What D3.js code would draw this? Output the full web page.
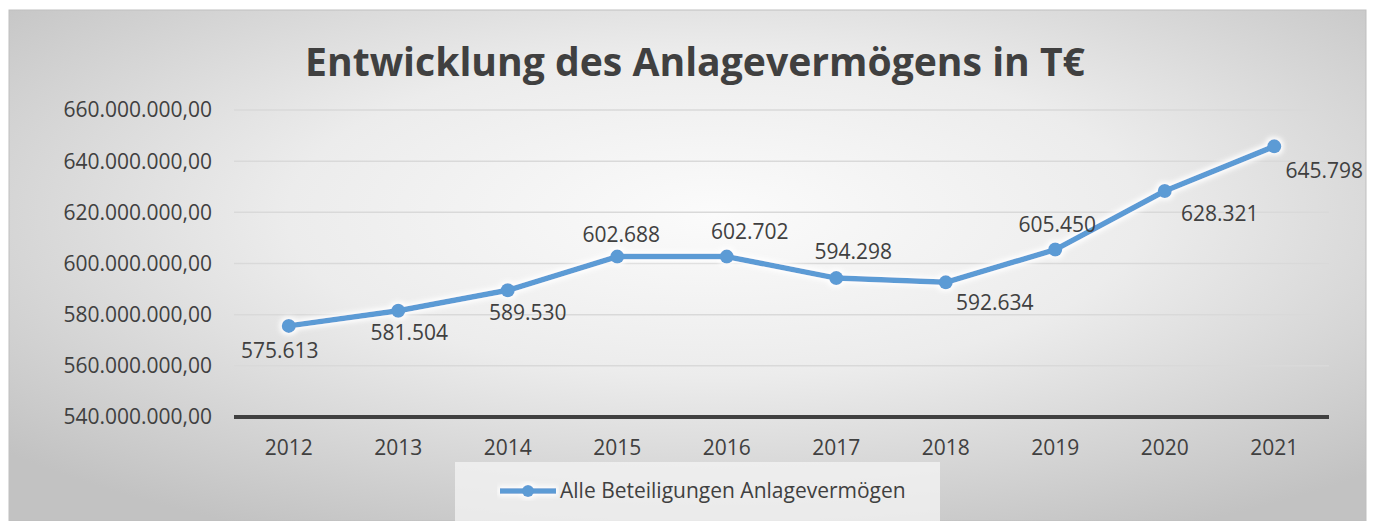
<!DOCTYPE html>
<html>
<head>
<meta charset="utf-8">
<script src="https://cdn.jsdelivr.net/npm/d3@7"></script>
<style>
  body { margin: 0; background: #fff; }
  svg { display: block; }
  text { font-family: "Open Sans", "DejaVu Sans", sans-serif; fill: #404040; }
</style>
</head>
<body>
<svg id="chart" width="1373" height="521"></svg>
<script>
// data (values in T€, axis shows raw euros)
var years = ['2012', '2013', '2014', '2015', '2016', '2017', '2018', '2019', '2020', '2021'];
var values = [575613, 581504, 589530, 602688, 602702, 594298, 592634, 605450, 628321, 645798];
var yTicks = [540000000, 560000000, 580000000, 600000000, 620000000, 640000000, 660000000];
var seriesName = 'Alle Beteiligungen Anlagevermögen';
var title = 'Entwicklung des Anlagevermögens in T€';

var svg = d3.select('#chart');
var W = 1373, H = 521;

var de = d3.formatLocale({ decimal: ',', thousands: '.', grouping: [3], currency: ['', '€'] });
var fmtAxis = de.format(',.2f');
var fmtLabel = de.format(',');

// background: grey frame with soft radial light
var defs = svg.append('defs');
var bg = defs.append('radialGradient').attr('id', 'bg')
  .attr('cx', '52%').attr('cy', '40%').attr('r', '70%');
bg.append('stop').attr('offset', '0%').attr('stop-color', '#fbfbfb');
bg.append('stop').attr('offset', '45%').attr('stop-color', '#ececec');
bg.append('stop').attr('offset', '100%').attr('stop-color', '#c2c2c2');

// white halo around the series, like the office "glow" effect
var glow = defs.append('filter').attr('id', 'glow')
  .attr('x', '-5%').attr('y', '-30%').attr('width', '110%').attr('height', '160%');
glow.append('feMorphology').attr('in', 'SourceAlpha').attr('operator', 'dilate').attr('radius', 1.5).attr('result', 'd');
glow.append('feGaussianBlur').attr('in', 'd').attr('stdDeviation', 2.5).attr('result', 'b');
glow.append('feFlood').attr('flood-color', '#ffffff').attr('flood-opacity', 1);
glow.append('feComposite').attr('in2', 'b').attr('operator', 'in').attr('result', 'g');
var merge = glow.append('feMerge');
merge.append('feMergeNode').attr('in', 'g');
merge.append('feMergeNode').attr('in', 'SourceGraphic');

svg.append('rect')
  .attr('x', 9).attr('y', 10).attr('width', W - 16).attr('height', H - 10)
  .attr('fill', 'url(#bg)')
  .attr('stroke', '#bfbfbf').attr('stroke-width', 1);

var margin = { top: 110, left: 234, right: 44, bottom: 104 };
var plotW = W - margin.left - margin.right;
var plotH = 417 - margin.top;

var g = svg.append('g').attr('transform', 'translate(' + margin.left + ',' + margin.top + ')');

var x = d3.scaleBand().domain(years).range([0, plotW]);
var y = d3.scaleLinear().domain([540000000, 660000000]).range([plotH, 0]);

// gridlines
g.selectAll('.grid').data(yTicks.slice(1)).enter().append('line')
  .attr('x1', 0).attr('x2', plotW)
  .attr('y1', function(d) { return y(d); }).attr('y2', function(d) { return y(d); })
  .attr('stroke', '#d9d9d9').attr('stroke-width', 1.5);

// y tick labels
g.selectAll('.ylab').data(yTicks).enter().append('text')
  .attr('x', -22).attr('y', function(d) { return y(d); })
  .attr('dy', '0.35em').attr('text-anchor', 'end')
  .style('font-size', '21px')
  .text(function(d) { return fmtAxis(d); });

// x axis line
g.append('line')
  .attr('x1', 0).attr('x2', plotW).attr('y1', plotH).attr('y2', plotH)
  .attr('stroke', '#404040').attr('stroke-width', 4);

// x labels
g.selectAll('.xlab').data(years).enter().append('text')
  .attr('x', function(d) { return x(d) + x.bandwidth() / 2; })
  .attr('y', plotH + 31).attr('dy', '0.35em').attr('text-anchor', 'middle')
  .style('font-size', '21px')
  .text(function(d) { return d; });

var pts = years.map(function(d, i) {
  return { year: d, v: values[i] * 1000 };
});
var cx = function(d) { return x(d.year) + x.bandwidth() / 2; };
var cy = function(d) { return y(d.v); };

var lineGen = d3.line().x(cx).y(cy);
var series = g.append('g').attr('filter', 'url(#glow)');
series.append('path').datum(pts)
  .attr('d', lineGen).attr('fill', 'none')
  .attr('stroke', '#5b9bd5').attr('stroke-width', 5.5).attr('stroke-linejoin', 'round');
series.selectAll('circle').data(pts).enter().append('circle')
  .attr('cx', cx).attr('cy', cy).attr('r', 7)
  .attr('fill', '#5b9bd5');

// data labels, nudged like the auto-placed office labels
var nudge = [[-9, 25], [11, 22], [20, 22], [4, -22], [23, -25],
             [17, -26], [49, 20], [2, -25], [55, 23], [50, 24]];
g.selectAll('.dlab').data(pts).enter().append('text')
  .attr('x', function(d, i) { return cx(d) + nudge[i][0]; })
  .attr('y', function(d, i) { return cy(d) + nudge[i][1]; })
  .attr('dy', '0.35em').attr('text-anchor', 'middle')
  .style('font-size', '21px')
  .text(function(d) { return fmtLabel(d.v / 1000); });

// title
var t = svg.append('text')
  .attr('x', 695).attr('y', 62).attr('dy', '0.35em').attr('text-anchor', 'middle')
  .style('font-size', '38px').style('font-weight', 'bold')
  .text(title);
var tw = t.node().getComputedTextLength();
t.style('font-size', (38 * 780 / tw) + 'px');

// legend
var lg = svg.append('g');
lg.append('rect').attr('x', 455).attr('y', 462).attr('width', 485).attr('height', 59)
  .attr('fill', '#f4f4f4').attr('opacity', 0.75);
var lgs = lg.append('g').attr('filter', 'url(#glow)');
lgs.append('line').attr('x1', 500).attr('x2', 556).attr('y1', 491).attr('y2', 491)
  .attr('stroke', '#5b9bd5').attr('stroke-width', 5.5);
lgs.append('circle').attr('cx', 528).attr('cy', 491).attr('r', 6).attr('fill', '#5b9bd5');
lg.append('text').attr('x', 560).attr('y', 491).attr('dy', '0.35em')
  .style('font-size', '21px').text(seriesName);
</script>
</body>
</html>
